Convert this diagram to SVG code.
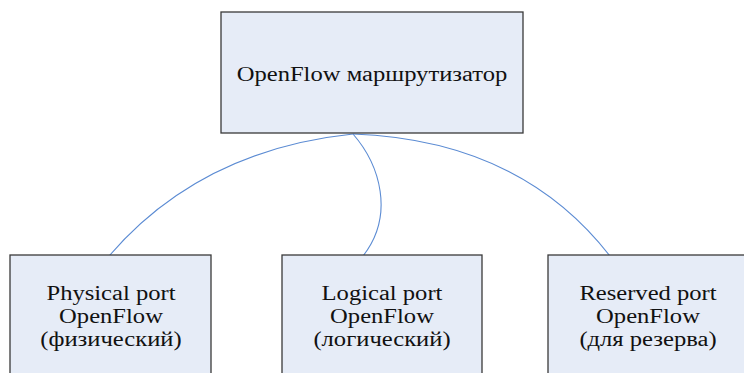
<svg xmlns="http://www.w3.org/2000/svg" width="744" height="373" viewBox="0 0 744 373">
<style>
.box{fill:#E6ECF7;stroke:#3a3a3a;stroke-width:1.3}
.t{font-family:"Liberation Serif","Times New Roman",serif;font-size:20px;fill:#111;text-anchor:middle}
.c{fill:none;stroke:#5B8BD3;stroke-width:1.1}
</style>
<rect width="744" height="373" fill="#fff"/>
<g id="connectors">
<path class="c" d="M353,134 Q200,150 109,256"/>
<path class="c" d="M353,134 C380,165 395,215 363,256"/>
<path class="c" d="M353,134 Q520,140 610,256"/>
</g>
<g id="router">
<rect class="box" x="221" y="12" width="302" height="121"/>
<text class="t" transform="translate(372,81) scale(1.23,1)">OpenFlow маршрутизатор</text>
</g>
<g id="physical">
<rect class="box" x="10" y="255" width="201" height="130"/>
<text class="t" transform="translate(111,300) scale(1.23,1)">Physical port</text>
<text class="t" transform="translate(111,323) scale(1.23,1)">OpenFlow</text>
<text class="t" transform="translate(111,346) scale(1.23,1)">(физический)</text>
</g>
<g id="logical">
<rect class="box" x="282" y="255" width="200" height="130"/>
<text class="t" transform="translate(382,300) scale(1.23,1)">Logical port</text>
<text class="t" transform="translate(382,323) scale(1.23,1)">OpenFlow</text>
<text class="t" transform="translate(382,346) scale(1.23,1)">(логический)</text>
</g>
<g id="reserved">
<rect class="box" x="548" y="255" width="200" height="130"/>
<text class="t" transform="translate(648,300) scale(1.23,1)">Reserved port</text>
<text class="t" transform="translate(648,323) scale(1.23,1)">OpenFlow</text>
<text class="t" transform="translate(648,346) scale(1.23,1)">(для резерва)</text>
</g>
</svg>
